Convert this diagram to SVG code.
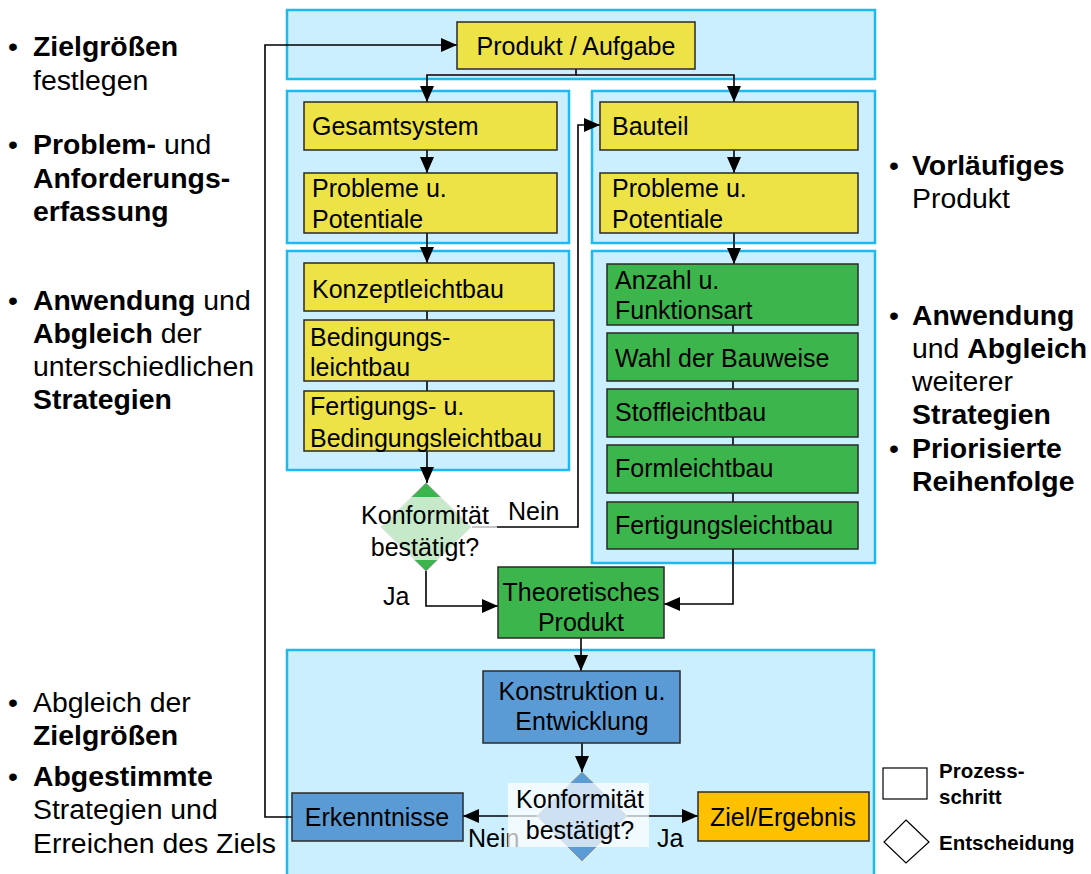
<svg xmlns="http://www.w3.org/2000/svg" width="1091" height="874" viewBox="0 0 1091 874">
  <style>
    .panel { fill: #ccefff; stroke: #1cb9f2; stroke-width: 2.5; }
    .box { stroke: #2a2a2a; stroke-width: 1.5; }
    .yellow { fill: #ede346; }
    .green { fill: #3cb64c; }
    .blue { fill: #5b9bd5; }
    .orange { fill: #ffc000; }
    .t { font-family: "Liberation Sans", Arial, sans-serif; font-size: 25px; fill: #000; }
    .c { text-anchor: middle; }
    .side { font-family: "Liberation Sans", Arial, sans-serif; font-size: 28.4px; fill: #000; }
    .b { font-weight: bold; }
    .leg { font-family: "Liberation Sans", Arial, sans-serif; font-size: 20.5px; font-weight: bold; fill: #000; }
    .wire { fill: none; stroke: #000; stroke-width: 1.6; }
    .band { fill: #fff; fill-opacity: 0.7; }
  </style>
  <defs>
    <marker id="arrow" viewBox="0 0 16 14" refX="16" refY="7" markerWidth="16" markerHeight="14" markerUnits="userSpaceOnUse" orient="auto">
      <path d="M0,0 L16,7 L0,14 Z" fill="#000"/>
    </marker>
  </defs>
  <rect width="1091" height="874" fill="#fff"/>

  <!-- background panels -->
  <g id="panels">
    <rect class="panel" x="287" y="10" width="588" height="69"/>
    <rect class="panel" x="287" y="91" width="282" height="152"/>
    <rect class="panel" x="592" y="91" width="283" height="152"/>
    <rect class="panel" x="287" y="251" width="282" height="219"/>
    <rect class="panel" x="592" y="251" width="283" height="312"/>
    <rect class="panel" x="287" y="650" width="587" height="230"/>
  </g>

  <!-- connectors -->
  <g id="connectors">
    <polyline class="wire" points="576,69 576,75 427,75 427,102" marker-end="url(#arrow)"/>
    <polyline class="wire" points="576,75 734,75 734,102" marker-end="url(#arrow)"/>
    <line class="wire" x1="427" y1="150" x2="427" y2="173" marker-end="url(#arrow)"/>
    <line class="wire" x1="734" y1="150" x2="734" y2="173" marker-end="url(#arrow)"/>
    <line class="wire" x1="427" y1="233" x2="427" y2="263" marker-end="url(#arrow)"/>
    <line class="wire" x1="734" y1="233" x2="734" y2="264" marker-end="url(#arrow)"/>
    <line class="wire" x1="427" y1="311" x2="427" y2="320"/>
    <line class="wire" x1="427" y1="381" x2="427" y2="391"/>
    <line class="wire" x1="427" y1="451" x2="427" y2="483" marker-end="url(#arrow)"/>
    <line class="wire" x1="733" y1="325" x2="733" y2="333"/>
    <line class="wire" x1="733" y1="381" x2="733" y2="389"/>
    <line class="wire" x1="733" y1="437" x2="733" y2="445"/>
    <line class="wire" x1="733" y1="493" x2="733" y2="502"/>
    <polyline class="wire" points="472,527 578,527 578,125 600,125" marker-end="url(#arrow)"/>
    <polyline class="wire" points="426,571 426,606 498,606" marker-end="url(#arrow)"/>
    <polyline class="wire" points="733,549 733,604 664,604" marker-end="url(#arrow)"/>
    <line class="wire" x1="581" y1="638" x2="581" y2="671" marker-end="url(#arrow)"/>
    <line class="wire" x1="582" y1="743" x2="582" y2="772" marker-end="url(#arrow)"/>
    <line class="wire" x1="627" y1="816" x2="698" y2="816" marker-end="url(#arrow)"/>
    <line class="wire" x1="537" y1="816" x2="463" y2="816" marker-end="url(#arrow)"/>
    <polyline class="wire" points="292,817 265,817 265,45 457,45" marker-end="url(#arrow)"/>
    <text class="t" x="508" y="520">Nein</text>
    <text class="t" x="383" y="605">Ja</text>
    <text class="t" x="468" y="847">Nein</text>
    <text class="t" x="657" y="847">Ja</text>
  </g>

  <!-- process steps -->
  <g id="produkt">
    <rect class="box yellow" x="457" y="22" width="238" height="47"/>
    <text class="t c" x="576" y="55">Produkt / Aufgabe</text>
  </g>
  <g id="gesamtsystem">
    <rect class="box yellow" x="304" y="102" width="253" height="48"/>
    <text class="t" x="312" y="135">Gesamtsystem</text>
  </g>
  <g id="probleme-links">
    <rect class="box yellow" x="304" y="173" width="253" height="60"/>
    <text class="t" x="312" y="197">Probleme u.</text>
    <text class="t" x="312" y="228">Potentiale</text>
  </g>
  <g id="bauteil">
    <rect class="box yellow" x="600" y="102" width="258" height="48"/>
    <text class="t" x="612" y="135">Bauteil</text>
  </g>
  <g id="probleme-rechts">
    <rect class="box yellow" x="600" y="173" width="258" height="60"/>
    <text class="t" x="612" y="197">Probleme u.</text>
    <text class="t" x="612" y="228">Potentiale</text>
  </g>
  <g id="konzeptleichtbau">
    <rect class="box yellow" x="304" y="263" width="250" height="48"/>
    <text class="t" x="312" y="298">Konzeptleichtbau</text>
  </g>
  <g id="bedingungsleichtbau">
    <rect class="box yellow" x="304" y="320" width="250" height="61"/>
    <text class="t" x="310" y="346">Bedingungs-</text>
    <text class="t" x="310" y="376">leichtbau</text>
  </g>
  <g id="fertigungs-bedingungsleichtbau">
    <rect class="box yellow" x="304" y="391" width="250" height="60"/>
    <text class="t" x="310" y="415">Fertigungs- u.</text>
    <text class="t" x="310" y="447">Bedingungsleichtbau</text>
  </g>
  <g id="anzahl">
    <rect class="box green" x="607" y="264" width="251" height="61"/>
    <text class="t" x="615" y="289">Anzahl u.</text>
    <text class="t" x="615" y="319">Funktionsart</text>
  </g>
  <g id="bauweise">
    <rect class="box green" x="607" y="333" width="251" height="48"/>
    <text class="t" x="615" y="367">Wahl der Bauweise</text>
  </g>
  <g id="stoffleichtbau">
    <rect class="box green" x="607" y="389" width="251" height="48"/>
    <text class="t" x="615" y="421">Stoffleichtbau</text>
  </g>
  <g id="formleichtbau">
    <rect class="box green" x="607" y="445" width="251" height="48"/>
    <text class="t" x="615" y="477">Formleichtbau</text>
  </g>
  <g id="fertigungsleichtbau">
    <rect class="box green" x="607" y="502" width="251" height="47"/>
    <text class="t" x="615" y="534">Fertigungsleichtbau</text>
  </g>
  <g id="entscheidung-1">
    <polygon points="426,483 471,527 426,571 381,527" fill="#3cb64c" stroke="#9a9a9a" stroke-width="1"/>
    <rect class="band" x="356" y="497" width="141" height="63"/>
    <text class="t c" x="425" y="524">Konformität</text>
    <text class="t c" x="425" y="556">bestätigt?</text>
  </g>
  <g id="theoretisches-produkt">
    <rect class="box green" x="498" y="567" width="166" height="71"/>
    <text class="t c" x="581" y="601">Theoretisches</text>
    <text class="t c" x="581" y="631">Produkt</text>
  </g>
  <g id="konstruktion">
    <rect class="box blue" x="483" y="671" width="197" height="72"/>
    <text class="t c" x="582" y="700">Konstruktion u.</text>
    <text class="t c" x="582" y="730">Entwicklung</text>
  </g>
  <g id="entscheidung-2">
    <polygon points="582,772 627,816 582,861 537,816" fill="#5b9bd5" stroke="#9a9a9a" stroke-width="1"/>
    <rect class="band" x="508" y="783" width="141" height="64"/>
    <text class="t c" x="580" y="808">Konformität</text>
    <text class="t c" x="580" y="839">bestätigt?</text>
  </g>
  <g id="erkenntnisse">
    <rect class="box blue" x="292" y="793" width="171" height="48"/>
    <text class="t c" x="377" y="826">Erkenntnisse</text>
  </g>
  <g id="ziel">
    <rect class="box orange" x="698" y="792" width="171" height="49"/>
    <text class="t c" x="783" y="826">Ziel/Ergebnis</text>
  </g>

  <!-- legend -->
  <g id="legende">
    <rect x="883" y="768" width="44" height="31" fill="#fff" stroke="#000" stroke-width="1.2"/>
    <polygon points="906,820 929,842 906,863 884,842" fill="#fff" stroke="#000" stroke-width="1.2"/>
    <text class="leg" x="939" y="778">Prozess-</text>
    <text class="leg" x="939" y="804">schritt</text>
    <text class="leg" x="939" y="850">Entscheidung</text>
  </g>

  <!-- side notes, left -->
  <g id="notizen-links">
    <text class="side" x="8" y="56">•</text>
    <text class="side" x="33" y="56"><tspan class="b">Zielgrößen</tspan></text>
    <text class="side" x="33" y="90">festlegen</text>
    <text class="side" x="8" y="154">•</text>
    <text class="side" x="33" y="154"><tspan class="b">Problem-</tspan> und</text>
    <text class="side b" x="33" y="188">Anforderungs-</text>
    <text class="side b" x="33" y="221">erfassung</text>
    <text class="side" x="8" y="310">•</text>
    <text class="side" x="33" y="310"><tspan class="b">Anwendung</tspan> und</text>
    <text class="side" x="33" y="343"><tspan class="b">Abgleich</tspan> der</text>
    <text class="side" x="33" y="376">unterschiedlichen</text>
    <text class="side b" x="33" y="409">Strategien</text>
    <text class="side" x="8" y="712">•</text>
    <text class="side" x="33" y="712">Abgleich der</text>
    <text class="side b" x="33" y="745">Zielgrößen</text>
    <text class="side" x="8" y="786">•</text>
    <text class="side b" x="33" y="786">Abgestimmte</text>
    <text class="side" x="33" y="819">Strategien und</text>
    <text class="side" x="33" y="853">Erreichen des Ziels</text>
  </g>

  <!-- side notes, right -->
  <g id="notizen-rechts">
    <text class="side" x="889" y="175">•</text>
    <text class="side b" x="912" y="175">Vorläufiges</text>
    <text class="side" x="912" y="208">Produkt</text>
    <text class="side" x="889" y="325">•</text>
    <text class="side b" x="912" y="325">Anwendung</text>
    <text class="side" x="912" y="358">und <tspan class="b">Abgleich</tspan></text>
    <text class="side" x="912" y="391">weiterer</text>
    <text class="side b" x="912" y="424">Strategien</text>
    <text class="side" x="889" y="458">•</text>
    <text class="side b" x="912" y="458">Priorisierte</text>
    <text class="side b" x="912" y="491">Reihenfolge</text>
  </g>
</svg>
